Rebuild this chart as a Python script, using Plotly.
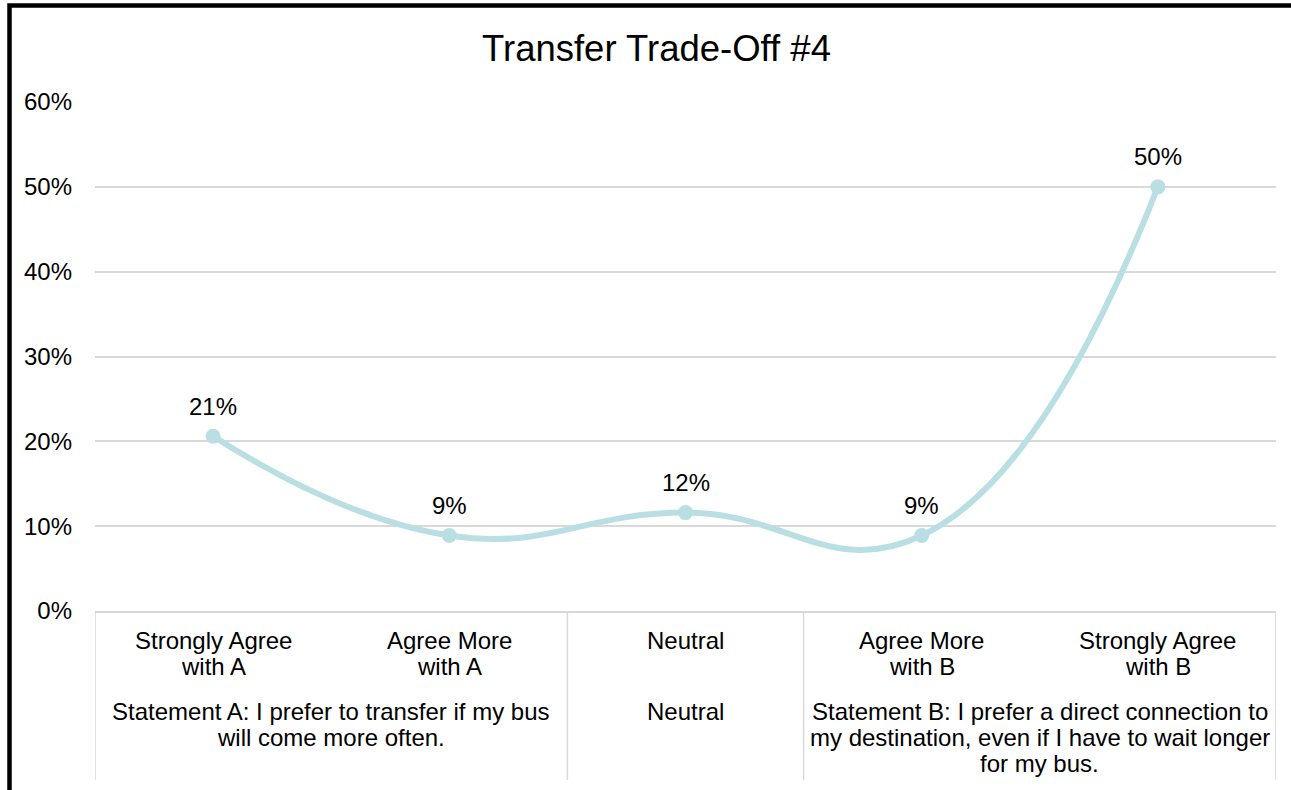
import plotly.graph_objects as go

# ---- data ----
categories = ["Strongly Agree with A", "Agree More with A", "Neutral", "Agree More with B", "Strongly Agree with B"]
category_lines = [["Strongly Agree", "with A"], ["Agree More", "with A"], ["Neutral"],
                  ["Agree More", "with B"], ["Strongly Agree", "with B"]]
values = [20.6, 8.9, 11.6, 8.9, 50.0]
value_labels = ["21%", "9%", "12%", "9%", "50%"]
group_lines = [
    ["Statement A: I prefer to transfer if my bus", "will come more often."],
    ["Neutral"],
    ["Statement B: I prefer a direct connection to", "my destination, even if I have to wait longer", "for my bus."],
]
group_spans = [(0, 1), (2, 2), (3, 4)]
y_ticks = [0, 10, 20, 30, 40, 50, 60]
y_tick_labels = ["0%", "10%", "20%", "30%", "40%", "50%", "60%"]
title_text = "Transfer Trade-Off #4"

# ---- layout geometry ----
W, H = 1291, 790
ML, MR, MT, MB = 95, 15, 102, 179
PW, PH = W - ML - MR, H - MT - MB

def px_to_paper_x(px):
    return (px - ML) / PW

def px_to_paper_y(py):
    return (H - MB - py) / PH

FONT = "Liberation Sans, Arial, sans-serif"
FS = 24
LINE_COLOR = "#b9dfe3"
GRID = "#d9d9d9"

fig = go.Figure()
fig.add_trace(go.Scatter(
    x=categories, y=values,
    mode="lines+markers",
    line=dict(color=LINE_COLOR, width=6, shape="spline", smoothing=1.3),
    marker=dict(color=LINE_COLOR, size=15),
    hoverinfo="skip",
    cliponaxis=False,
))

shapes = []
for xv in [-0.5, 1.5, 2.5, 4.5]:
    shapes.append(dict(type="line", xref="x", yref="paper", x0=xv, x1=xv,
                       y0=0, y1=px_to_paper_y(780), line=dict(color=GRID, width=1.5)))
shapes.append(dict(type="rect", xref="paper", yref="paper",
                   x0=px_to_paper_x(9.5), x1=px_to_paper_x(1300),
                   y0=px_to_paper_y(800), y1=px_to_paper_y(5.5),
                   line=dict(color="#000000", width=4.5), fillcolor="rgba(0,0,0,0)", layer="above"))

annotations = []
txtfont = dict(family=FONT, size=FS, color="#000000")
# data labels
for c, v, lab in zip(categories, values, value_labels):
    annotations.append(dict(text=lab, x=c, y=v, xref="x", yref="y", yshift=30,
                            yanchor="middle", xanchor="center", showarrow=False, font=txtfont))
# category labels
step = 26
for i, lines in enumerate(category_lines):
    for j, t in enumerate(lines):
        annotations.append(dict(text=t, x=i, xref="x", y=px_to_paper_y(640 + j * step), yref="paper",
                                yanchor="middle", xanchor="center", showarrow=False, font=txtfont))
# group labels
for lines, (a, b) in zip(group_lines, group_spans):
    xc = (a + b) / 2
    for j, t in enumerate(lines):
        annotations.append(dict(text=t, x=xc, xref="x", y=px_to_paper_y(711 + j * step), yref="paper",
                                yanchor="middle", xanchor="center", showarrow=False, font=txtfont))

fig.update_layout(
    width=W, height=H,
    margin=dict(l=ML, r=MR, t=MT, b=MB, pad=0),
    paper_bgcolor="white", plot_bgcolor="white",
    showlegend=False,
    title=dict(text=title_text, x=656.5 / W, xref="container", xanchor="center",
               y=1 - 48 / H, yref="container", yanchor="middle",
               font=dict(family=FONT, size=36.5, color="#000000")),
    xaxis=dict(type="category", range=[-0.5, 4.5], showticklabels=False,
               showgrid=False, showline=True, linecolor=GRID, linewidth=1.5, ticks="",
               fixedrange=True),
    yaxis=dict(range=[0, 60], tickmode="array", tickvals=y_ticks, ticktext=y_tick_labels,
               showgrid=True, gridcolor=GRID,
               gridwidth=1.5, zeroline=False, showline=False, ticks="", ticklabelstandoff=22,
               tickfont=txtfont, fixedrange=True),
    shapes=shapes,
    annotations=annotations,
)

fig.write_html("out.html")
